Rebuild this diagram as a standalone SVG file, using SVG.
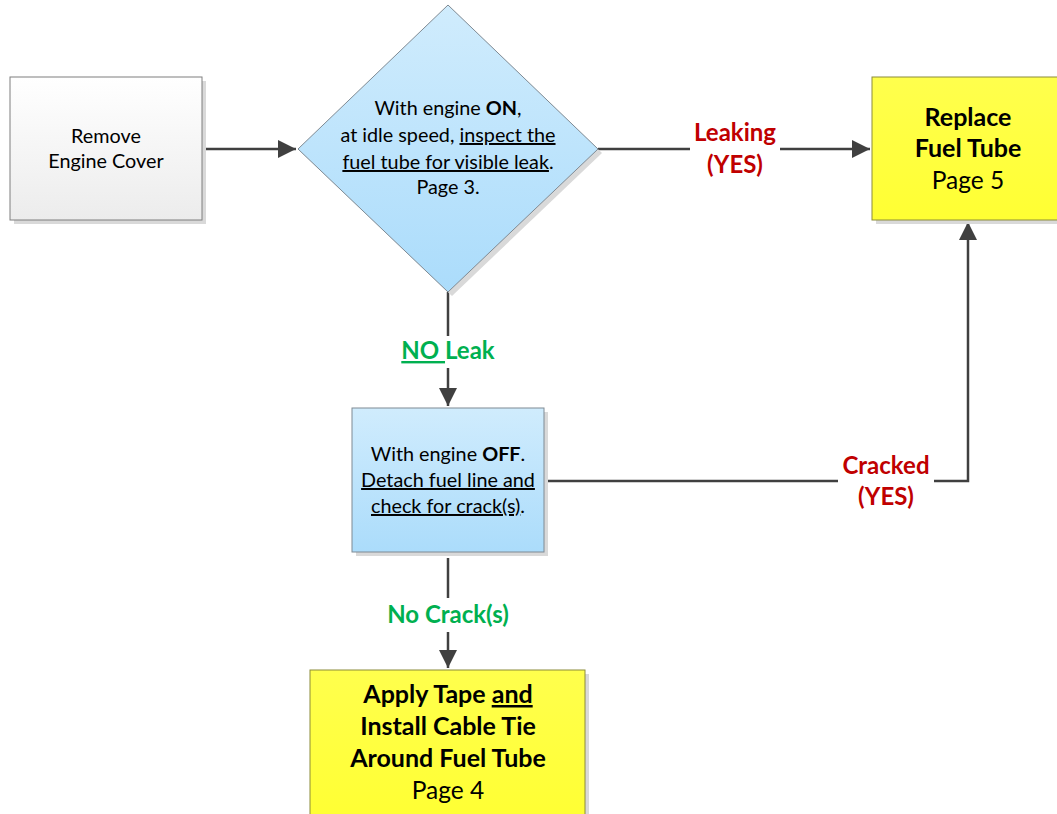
<svg xmlns="http://www.w3.org/2000/svg" width="1057" height="814" viewBox="0 0 1057 814">
<defs>
<linearGradient id="gGray" x1="0" y1="0" x2="0" y2="1"><stop offset="0" stop-color="#ffffff"/><stop offset="1" stop-color="#ececec"/></linearGradient>
<linearGradient id="gBlue" x1="0" y1="0" x2="0" y2="1"><stop offset="0" stop-color="#d0ecfd"/><stop offset="1" stop-color="#abdcfb"/></linearGradient>
<linearGradient id="gYellow" x1="0" y1="0" x2="0" y2="1"><stop offset="0" stop-color="#ffff4d"/><stop offset="1" stop-color="#ffff33"/></linearGradient>
<marker id="arr" markerUnits="userSpaceOnUse" markerWidth="20" markerHeight="18" refX="18" refY="9" orient="auto"><path d="M0,0 L18,9 L0,18 Z" fill="#404040"/></marker>
</defs>
<style>
.t{font-family:Lato,"Liberation Sans",sans-serif;fill:#000;text-anchor:middle}
.s{font-size:19.8px}
.b{font-size:25px;font-weight:bold}
.p{font-size:24.5px}
.lr{font-family:Lato,"Liberation Sans",sans-serif;font-size:24px;font-weight:bold;fill:#c00000;text-anchor:middle}
.lg{font-family:Lato,"Liberation Sans",sans-serif;font-size:24px;font-weight:bold;fill:#00b050;text-anchor:middle}
.u{text-decoration:underline}
.sh{fill:#d9d9d9}
.con{fill:none;stroke:#404040;stroke-width:2.5}
</style>
<rect width="1057" height="814" fill="#ffffff"/>
<g id="connectors">
<path class="con" d="M202,149 H296" marker-end="url(#arr)"/>
<path class="con" d="M598,149 H690"/>
<path class="con" d="M780,149 H870" marker-end="url(#arr)"/>
<path class="con" d="M448,292 V336"/>
<path class="con" d="M448,368 V406" marker-end="url(#arr)"/>
<path class="con" d="M544,481 H838"/>
<path class="con" d="M934,481 H968 V222" marker-end="url(#arr)"/>
<path class="con" d="M448,558 V598"/>
<path class="con" d="M448,632 V668" marker-end="url(#arr)"/>
<text class="lr" x="735" y="141">Leaking</text>
<text class="lr" x="735" y="173">(YES)</text>
<text class="lg" x="448" y="359"><tspan class="u">NO </tspan>Leak</text>
<text class="lr" x="886" y="474">Cracked</text>
<text class="lr" x="886" y="505">(YES)</text>
<text class="lg" x="448" y="623">No Crack(s)</text>
</g>
<g id="remove-cover">
<rect class="sh" x="14" y="81" width="192" height="143"/>
<rect x="10" y="77" width="192" height="143" fill="url(#gGray)" stroke="#7f7f7f" stroke-width="1"/>
<text class="t s" x="106" y="143">Remove</text>
<text class="t s" x="106" y="168">Engine Cover</text>
</g>
<g id="inspect-leak">
<path class="sh" d="M452,9 L602,153 L452,296 L302,153 Z"/>
<path d="M448,5 L598,149 L448,292 L298,149 Z" fill="url(#gBlue)" stroke="#7f8a93" stroke-width="1"/>
<text class="t s" x="448" y="115">With engine <tspan font-weight="bold">ON</tspan>,</text>
<text class="t s" x="448" y="142">at idle speed, <tspan class="u">inspect the</tspan></text>
<text class="t s" x="448" y="169"><tspan class="u">fuel tube for visible leak</tspan>.</text>
<text class="t s" x="448" y="194">Page 3.</text>
</g>
<g id="replace-tube">
<rect class="sh" x="876" y="81" width="192" height="143"/>
<rect x="872" y="77" width="192" height="143" fill="url(#gYellow)" stroke="#8c8c3a" stroke-width="1"/>
<text class="t b" x="968" y="126">Replace</text>
<text class="t b" x="968" y="157">Fuel Tube</text>
<text class="t p" x="968" y="189">Page 5</text>
</g>
<g id="check-crack">
<rect class="sh" x="356" y="412" width="192" height="144"/>
<rect x="352" y="408" width="192" height="144" fill="url(#gBlue)" stroke="#7f8a93" stroke-width="1"/>
<text class="t s" x="448" y="461">With engine <tspan font-weight="bold">OFF</tspan>.</text>
<text class="t s" x="448" y="487"><tspan class="u">Detach fuel line and</tspan></text>
<text class="t s" x="448" y="513"><tspan class="u">check for crack(s)</tspan>.</text>
</g>
<g id="apply-tape">
<rect class="sh" x="314" y="674" width="275" height="150"/>
<rect x="310" y="670" width="275" height="150" fill="url(#gYellow)" stroke="#8c8c3a" stroke-width="1"/>
<text class="t b" x="448" y="703">Apply Tape <tspan class="u">and</tspan></text>
<text class="t b" x="448" y="735">Install Cable Tie</text>
<text class="t b" x="448" y="767">Around Fuel Tube</text>
<text class="t p" x="448" y="799">Page 4</text>
</g>
</svg>
